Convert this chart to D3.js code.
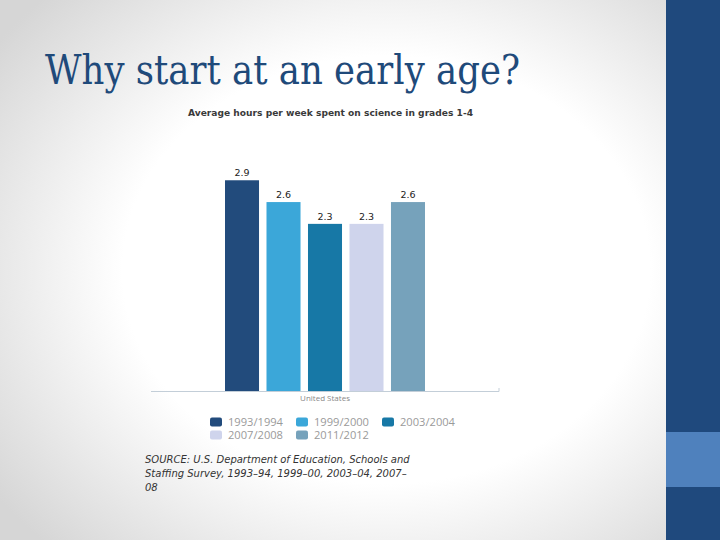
<!DOCTYPE html>
<html>
<head>
<meta charset="utf-8">
<script src="https://cdn.jsdelivr.net/npm/d3@7"></script>
<style>
  html, body { margin: 0; padding: 0; background: #fff; }
  svg { display: block; }
</style>
</head>
<body>
<div id="slide"></div>
<script>
// Data
var years = ["1993/1994", "1999/2000", "2003/2004", "2007/2008", "2011/2012"];
var hours = [2.9, 2.6, 2.3, 2.3, 2.6];
var barColors = ["#224b7c", "#3ba7d9", "#1778a6", "#cfd4ec", "#76a2bb"];
var country = ["United States"];
var sourceLines = [
  "SOURCE: U.S. Department of Education, Schools and",
  "Staffing Survey, 1993\u201394, 1999\u201300, 2003\u201304, 2007\u2013",
  "08"
];

var width = 720;
var height = 540;

var svg = d3.select("#slide").append("svg")
    .attr("width", width)
    .attr("height", height);

// slide background: soft vignette + blue side panel
var defs = svg.append("defs");
var grad = defs.append("radialGradient")
    .attr("id", "bg")
    .attr("cx", "58%").attr("cy", "50%").attr("r", "72%");
grad.append("stop").attr("offset", "0%").attr("stop-color", "#ffffff");
grad.append("stop").attr("offset", "55%").attr("stop-color", "#ffffff");
grad.append("stop").attr("offset", "100%").attr("stop-color", "#d6d6d6");

svg.append("rect")
    .attr("width", 666).attr("height", height)
    .attr("fill", "url(#bg)");
svg.append("rect")
    .attr("x", 666).attr("width", 54).attr("height", height)
    .attr("fill", "#1f497d");
svg.append("rect")
    .attr("x", 666).attr("y", 432).attr("width", 54).attr("height", 55)
    .attr("fill", "#4f81bd");

// slide title
svg.append("text")
    .attr("x", 45).attr("y", 84)
    .attr("textLength", 475)
    .attr("lengthAdjust", "spacingAndGlyphs")
    .style("font-family", "'DejaVu Serif', serif")
    .style("font-size", "41px")
    .style("fill", "#1f4a7a")
    .text("Why start at an early age?");

// chart title
svg.append("text")
    .attr("x", 188).attr("y", 116)
    .attr("textLength", 285)
    .attr("lengthAdjust", "spacingAndGlyphs")
    .style("font-family", "'DejaVu Sans', sans-serif")
    .style("font-size", "9px")
    .style("font-weight", "bold")
    .style("fill", "#3a3a3a")
    .text("Average hours per week spent on science in grades 1-4");

// scales
var outer = d3.scaleBand()
    .domain(country)
    .range([151, 499]);

var x = d3.scaleBand()
    .domain(years)
    .range([225, 425])
    .paddingInner(0.18);

var y = d3.scaleLinear()
    .domain([0, 3])
    .range([391, 173]);

var color = d3.scaleOrdinal()
    .domain(years)
    .range(barColors);

var data = years.map(function(d, i) { return { year: d, value: hours[i] }; });

// bars
svg.selectAll(".bar")
    .data(data)
  .enter().append("rect")
    .attr("class", "bar")
    .attr("x", function(d) { return x(d.year); })
    .attr("y", function(d) { return y(d.value); })
    .attr("width", x.bandwidth())
    .attr("height", function(d) { return y(0) - y(d.value); })
    .attr("fill", function(d) { return color(d.year); });

// value labels
svg.selectAll(".val")
    .data(data)
  .enter().append("text")
    .attr("class", "val")
    .attr("x", function(d) { return x(d.year) + x.bandwidth() / 2; })
    .attr("y", function(d) { return y(d.value) - 4; })
    .attr("text-anchor", "middle")
    .style("font-family", "'DejaVu Sans', sans-serif")
    .style("font-size", "9.5px")
    .style("fill", "#222")
    .text(function(d) { return d.value.toFixed(1); });

// category axis
var xAxis = svg.append("g")
    .attr("transform", "translate(0," + y(0) + ")")
    .call(d3.axisBottom(outer).tickSize(0).tickPadding(4));
xAxis.select(".domain")
    .attr("stroke", "#c3ced8")
    .attr("d", "M" + outer.range()[0] + ",0.5H" + outer.range()[1] + "V-3");
xAxis.selectAll("text")
    .style("font-family", "'Open Sans', sans-serif")
    .style("font-size", "8px")
    .style("fill", "#888");

// legend (flows across two rows)
var legend = svg.append("g");
var lx = 210, ly = 417.5, perRow = 3;
years.forEach(function(d, i) {
  if (i > 0 && i % perRow === 0) { lx = 210; ly += 13; }
  legend.append("rect")
      .attr("x", lx).attr("y", ly)
      .attr("width", 12).attr("height", 9)
      .attr("rx", 2)
      .attr("fill", color(d));
  var t = legend.append("text")
      .attr("x", lx + 18).attr("y", ly + 8.5)
      .attr("textLength", 55)
      .attr("lengthAdjust", "spacingAndGlyphs")
      .style("font-family", "'Open Sans', sans-serif")
      .style("font-size", "10px")
      .style("fill", "#9a9a9a")
      .text(d);
  lx += 18 + 55 + 13;
});

// source note
svg.selectAll(".src")
    .data(sourceLines)
  .enter().append("text")
    .attr("class", "src")
    .attr("x", 145)
    .attr("y", function(d, i) { return 463 + i * 14; })
    .style("font-family", "'DejaVu Sans', sans-serif")
    .style("font-style", "italic")
    .style("font-size", "10px")
    .style("fill", "#333")
    .text(function(d) { return d; });
</script>
</body>
</html>
